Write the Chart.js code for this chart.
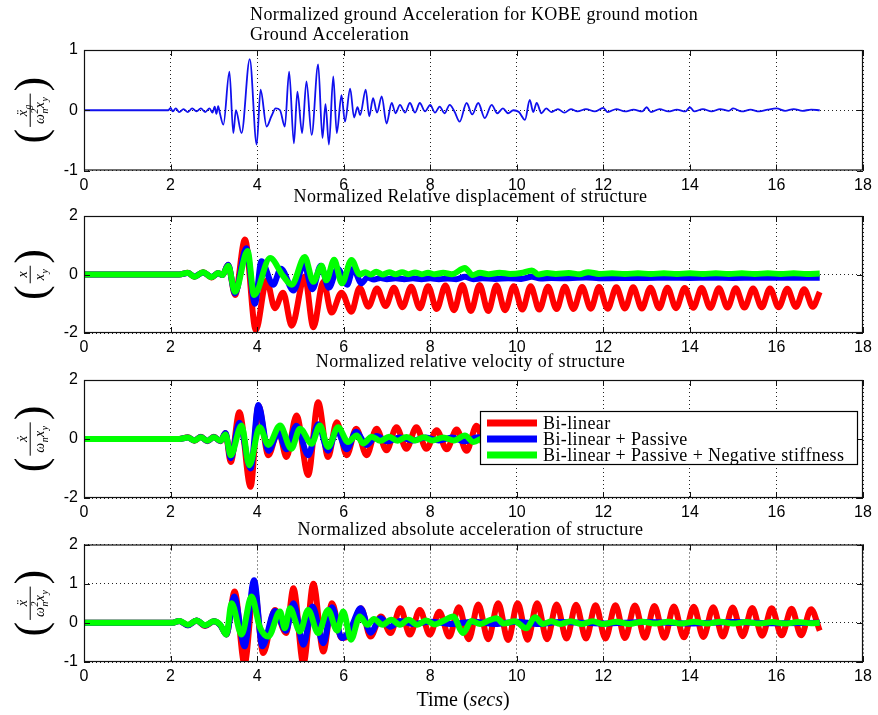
<!DOCTYPE html>
<html>
<head>
<meta charset="utf-8">
<title>KOBE ground motion response</title>
<script src="https://cdn.jsdelivr.net/npm/chart.js@4.4.1/dist/chart.umd.min.js"></script>
<style>
    html, body { margin: 0; padding: 0; background: #fff; }
    #figure { position: relative; width: 878px; height: 715px; overflow: hidden; background: #fff; }
    #figure canvas { position: absolute; left: 0; }
</style>
</head>
<body>
<div id="figure">
    <canvas id="chartGround"></canvas>
    <canvas id="chartDisp"></canvas>
    <canvas id="chartVel"></canvas>
    <canvas id="chartAcc"></canvas>
</div>
<script>
// ---- data (time in s, normalized values) ----
const xTicks = {min: 0, max: 18, step: 2};
const seriesLabels = ["Bi-linear", "Bi-linear + Passive", "Bi-linear + Passive + Negative stiffness"];

const groundT = [
    0, 1.95, 2.0, 2.05, 2.12, 2.2, 2.3, 2.4, 2.5, 2.6,
    2.7, 2.8, 2.9, 2.97, 3.02, 3.06, 3.1, 3.14, 3.22, 3.36,
    3.45, 3.51, 3.64, 3.83, 3.99, 4.08, 4.22, 4.33, 4.43, 4.53,
    4.64, 4.74, 4.85, 4.93, 5.04, 5.14, 5.26, 5.41, 5.51, 5.58,
    5.66, 5.76, 5.84, 5.95, 6.03, 6.15, 6.24, 6.32, 6.38, 6.51,
    6.59, 6.68, 6.77, 6.88, 6.99, 7.11, 7.2, 7.3, 7.42, 7.53,
    7.65, 7.76, 7.88, 8.0, 8.11, 8.22, 8.33, 8.45, 8.56, 8.68,
    8.84, 8.97, 9.11, 9.26, 9.42, 9.55, 9.68, 9.8, 9.92, 10.05,
    10.19, 10.3, 10.38, 10.46, 10.57, 10.68, 10.8, 10.95, 11.1, 11.25,
    11.4, 11.6, 11.8, 12.0, 12.1, 12.3, 12.5, 12.7, 12.9, 13.0,
    13.1, 13.3, 13.5, 13.7, 13.9, 14.0, 14.1, 14.3, 14.5, 14.7,
    14.9, 15.0, 15.2, 15.4, 15.6, 15.8, 16.0, 16.2, 16.4, 16.6,
    16.8, 17.0
];
const groundAcc = [
    0, 0, 0.04, -0.02, 0.03, -0.03, 0.02, -0.03, 0.03, -0.02,
    0.03, -0.03, 0.03, -0.04, 0.06, -0.06, 0.07, -0.05, -0.24, 0.64,
    -0.38, 0.0, -0.38, 0.85, -0.57, 0.34, -0.27, -0.1, 0.03, 0.0,
    -0.27, 0.64, -0.55, 0.31, -0.38, 0.48, -0.41, 0.76, -0.46, 0.1,
    -0.57, 0.56, -0.38, 0.25, -0.19, 0.36, -0.12, 0.05, -0.08, 0.34,
    -0.1, 0.2, -0.04, 0.23, -0.22, 0.12, -0.05, 0.09, -0.04, 0.12,
    -0.04, 0.12, -0.02, 0.09, -0.04, 0.06, -0.05, 0.09, -0.02, -0.19,
    0.12, -0.07, 0.12, -0.13, 0.09, -0.05, 0.03, -0.05, 0.0, -0.03,
    -0.16, 0.17, -0.03, 0.12, -0.05, 0.03, -0.03, 0.02, -0.04, 0.02,
    -0.02, 0.02, -0.02, 0.04, -0.03, 0.02, -0.02, 0.01, -0.02, 0.05,
    -0.03, 0.02, -0.02, 0.01, -0.02, 0.05, -0.02, 0.02, -0.02, 0.02,
    -0.01, 0.03, -0.02, 0.01, -0.02, 0.01, 0.03, -0.01, 0.02, -0.01,
    0.01, 0.0
];

// relative displacement
const dispRedT = [
    0, 2.2, 2.4, 2.55, 2.75, 2.95, 3.1, 3.2, 3.33, 3.49,
    3.72, 3.97, 4.22, 4.41, 4.6, 4.8, 5.1, 5.3, 5.53, 5.72,
    5.95, 6.18,
    6.37, 6.57, 6.77, 6.97, 7.16, 7.36, 7.56, 7.76, 7.95, 8.15,
    8.35, 8.55, 8.74, 8.94, 9.14, 9.34, 9.53, 9.73, 9.93, 10.13,
    10.32, 10.52, 10.72, 10.92, 11.11, 11.31, 11.51, 11.71, 11.90, 12.10,
    12.30, 12.50, 12.69, 12.89, 13.09, 13.29, 13.48, 13.68, 13.88, 14.08,
    14.27, 14.47, 14.67, 14.87, 15.06, 15.26, 15.46, 15.66, 15.85, 16.05,
    16.25, 16.45, 16.64, 16.84, 17.0
];
const dispRed = [
    0, 0, 0.06, -0.08, 0.08, -0.1, 0.05, -0.02, 0.33, -0.7,
    1.2, -1.9, -0.2, -1.15, -0.62, -1.75, -0.07, -1.8, -0.25, -1.3,
    -0.62, -1.27,
    -0.45, -1.10, -0.48, -1.08, -0.45, -1.12, -0.42, -1.15, -0.40, -1.18,
    -0.38, -1.22, -0.36, -1.25, -0.36, -1.25, -0.38, -1.22, -0.40, -1.20,
    -0.40, -1.20, -0.42, -1.18, -0.42, -1.18, -0.43, -1.17, -0.43, -1.17,
    -0.44, -1.16, -0.44, -1.16, -0.45, -1.15, -0.45, -1.15, -0.46, -1.14,
    -0.46, -1.14, -0.47, -1.13, -0.47, -1.13, -0.48, -1.12, -0.48, -1.12,
    -0.49, -1.11, -0.50, -1.10, -0.60
];
const dispBlueT = [
    0, 2.2, 2.4, 2.55, 2.75, 2.95, 3.1, 3.2, 3.33, 3.49,
    3.75, 3.95, 4.1, 4.37, 4.55, 4.84, 5.08, 5.28, 5.47, 5.66,
    5.86, 6.08, 6.22, 6.41, 6.55, 6.7, 6.85, 7.0, 7.2, 7.4,
    7.6, 7.8, 8.0, 8.2, 8.4, 8.6, 8.8, 9.0, 9.2, 9.5,
    9.8, 10.1, 10.35, 10.55, 10.8, 11.2, 11.6, 11.9, 12.4, 13.0,
    13.5, 14.0, 14.5, 15.0, 15.5, 16.0, 16.5, 17.0
];
const dispBlue = [
    0, 0, 0.05, -0.07, 0.07, -0.08, 0.04, -0.02, 0.33, -0.65,
    0.9, -1.0, 0.45, -0.35, 0.2, -0.55, 0.35, -0.5, 0.3, -0.45,
    0.2, -0.35, 0.2, -0.3, -0.1, -0.17, -0.12, -0.16, -0.13, -0.16,
    -0.13, -0.16, -0.13, -0.16, -0.14, -0.16, -0.08, -0.16, -0.13, -0.15,
    -0.13, -0.15, -0.08, -0.14, -0.12, -0.13, -0.1, -0.13, -0.12, -0.12,
    -0.11, -0.12, -0.11, -0.12, -0.11, -0.11, -0.11, -0.11
];
const dispGreenT = [
    0, 2.2, 2.4, 2.55, 2.75, 2.95, 3.1, 3.2, 3.33, 3.49,
    3.78, 3.93, 4.3, 4.6, 4.8, 5.1, 5.3, 5.49, 5.6, 5.78,
    5.96, 6.18, 6.37, 6.5, 6.62, 6.75, 6.9, 7.05, 7.2, 7.35,
    7.5, 7.65, 7.8, 7.95, 8.1, 8.3, 8.5, 8.8, 8.98, 9.15,
    9.35, 9.6, 9.85, 10.1, 10.35, 10.5, 10.7, 10.9, 11.2, 11.45,
    11.65, 11.9, 12.2, 12.5, 12.8, 13.1, 13.4, 13.7, 14.0, 14.3,
    14.6, 14.9, 15.2, 15.5, 15.8, 16.1, 16.4, 16.7, 17.0
];
const dispGreen = [
    0, 0, 0.06, -0.08, 0.08, -0.09, 0.05, -0.02, 0.3, -0.59,
    0.8, -0.7, 0.56, -0.05, -0.35, 0.6, -0.25, 0.3, -0.2, 0.5,
    -0.3, 0.5, 0.0, 0.08, 0.0, 0.09, 0.0, 0.08, 0.01, 0.08,
    0.01, 0.07, 0.01, 0.06, 0.01, 0.06, 0.01, 0.22, -0.02, 0.06,
    0.01, 0.06, 0.02, 0.05, 0.14, 0.0, 0.05, 0.02, 0.05, 0.01,
    0.08, 0.02, 0.04, 0.02, 0.04, 0.02, 0.04, 0.02, 0.04, 0.02,
    0.04, 0.02, 0.04, 0.02, 0.04, 0.02, 0.04, 0.02, 0.03
];

// relative velocity
const velRedT = [
    0, 2.2, 2.4, 2.55, 2.7, 2.85, 3.0, 3.15, 3.27, 3.39,
    3.59, 3.85, 4.03, 4.26, 4.49, 4.68, 4.91, 5.18, 5.41, 5.64,
    5.84, 6.07,
    6.29, 6.53, 6.76, 6.99, 7.22, 7.45, 7.68, 7.91, 8.15, 8.38,
    8.61, 8.84, 9.07, 9.30, 9.53, 9.76, 9.99, 10.22, 10.45, 10.68,
    10.91, 11.14, 11.37, 11.60, 11.83, 12.06, 12.29, 12.52, 12.75, 12.98,
    13.21, 13.44, 13.67, 13.90, 14.13, 14.36, 14.59, 14.82, 15.05, 15.28,
    15.51, 15.74, 15.97, 16.20, 16.43, 16.66, 16.89, 17.0
];
const velRed = [
    0, 0, 0.06, -0.06, 0.08, -0.08, 0.08, -0.08, 0.2, -0.78,
    0.91, -1.62, 1.13, -0.55, 0.29, -0.61, 0.8, -1.22, 1.25, -0.61,
    0.57, -0.55,
    0.35, -0.55, 0.35, -0.38, 0.40, -0.33, 0.40, -0.33, 0.30, -0.35,
    0.32, -0.40, 0.45, -0.42, 0.42, -0.42, 0.42, -0.42, 0.42, -0.42,
    0.40, -0.40, 0.40, -0.40, 0.40, -0.40, 0.38, -0.38, 0.38, -0.38,
    0.37, -0.37, 0.36, -0.36, 0.36, -0.36, 0.35, -0.35, 0.34, -0.34,
    0.34, -0.34, 0.33, -0.33, 0.33, -0.33, 0.32, 0.10
];
const velBlueT = [
    0, 2.2, 2.4, 2.55, 2.7, 2.85, 3.0, 3.15, 3.27, 3.39,
    3.59, 3.85, 4.03, 4.26, 4.49, 4.68, 4.91, 5.18, 5.41, 5.64,
    5.84, 6.07, 6.29, 6.53, 6.76, 7.0, 7.3, 7.6, 7.9, 8.2,
    8.5, 8.8, 9.1, 9.5, 10.0, 11.0, 12.0, 13.0, 14.0, 15.0,
    16.0, 17.0
];
const velBlue = [
    0, 0, 0.05, -0.05, 0.07, -0.07, 0.07, -0.07, 0.2, -0.65,
    0.55, -1.0, 1.15, -0.4, 0.2, -0.35, 0.45, -0.55, 0.5, -0.4,
    0.3, -0.35, 0.25, -0.2, 0.1, -0.08, 0.05, -0.05, 0.05, -0.05,
    0.05, -0.08, 0.06, -0.04, 0.03, -0.03, 0.02, -0.02, 0.02, -0.02,
    0.01, 0.0
];
const velGreenT = [
    0, 2.2, 2.4, 2.55, 2.7, 2.85, 3.0, 3.15, 3.27, 3.39,
    3.64, 3.82, 4.06, 4.26, 4.53, 4.79, 4.99, 5.26, 5.45, 5.64,
    5.87, 6.1, 6.3, 6.45, 6.65, 6.85, 7.05, 7.25, 7.45, 7.65,
    7.85, 8.05, 8.3, 8.55, 8.8, 9.0, 9.25, 9.5, 10.0, 11.0,
    12.0, 13.0, 14.0, 15.0, 16.0, 17.0
];
const velGreen = [
    0, 0, 0.05, -0.05, 0.06, -0.06, 0.06, -0.06, 0.15, -0.55,
    0.46, -0.89, 0.4, -0.2, 0.46, -0.33, 0.35, -0.16, 0.46, -0.27,
    0.4, -0.1, 0.12, -0.15, 0.08, -0.06, 0.08, -0.06, 0.07, -0.05,
    0.06, -0.05, 0.05, -0.05, 0.12, -0.1, 0.05, -0.03, 0.03, -0.02,
    0.02, -0.02, 0.02, -0.01, 0.01, 0.0
];

// absolute acceleration
const accRedT = [
    0, 2.05, 2.2, 2.4, 2.6, 2.8, 3.0, 3.15, 3.29, 3.48,
    3.71, 3.93, 4.14, 4.41, 4.67, 4.84, 5.07, 5.3, 5.53, 5.73,
    5.95, 6.15,
    6.40, 6.62, 6.86, 7.08, 7.31, 7.53, 7.76, 7.99, 8.21, 8.44,
    8.66, 8.89, 9.11, 9.34, 9.57, 9.80, 10.02, 10.25, 10.47, 10.70,
    10.92, 11.15, 11.37, 11.60, 11.82, 12.05, 12.28, 12.50, 12.73, 12.96,
    13.18, 13.41, 13.63, 13.86, 14.09, 14.31, 14.54, 14.76, 14.99, 15.22,
    15.44, 15.67, 15.89, 16.12, 16.35, 16.57, 16.80, 17.0
];
const accRed = [
    0, 0, 0.05, -0.06, 0.06, -0.08, 0.04, -0.06, -0.3, 0.8,
    -1.05, 0.92, -0.77, 0.33, -0.26, 0.88, -1.05, 1.0, -0.73, 0.5,
    -0.39, -0.3,
    0.37, -0.35, 0.16, -0.26, 0.37, -0.30, 0.33, -0.30, 0.28, -0.35,
    0.40, -0.42, 0.47, -0.42, 0.50, -0.44, 0.50, -0.43, 0.50, -0.42,
    0.47, -0.40, 0.46, -0.40, 0.45, -0.40, 0.45, -0.39, 0.44, -0.38,
    0.43, -0.38, 0.42, -0.37, 0.41, -0.36, 0.40, -0.35, 0.39, -0.34,
    0.38, -0.33, 0.37, -0.32, 0.36, -0.32, 0.35, -0.20
];
const accBlueT = [
    0, 2.05, 2.2, 2.4, 2.6, 2.8, 3.0, 3.15, 3.29, 3.47,
    3.71, 3.93, 4.12, 4.41, 4.67, 4.84, 5.07, 5.28, 5.53, 5.73,
    5.96, 6.18, 6.39, 6.62, 6.85, 7.08, 7.3, 7.6, 8.0, 8.5,
    9.0, 9.5, 10.0, 10.5, 11.0, 12.0, 13.0, 14.0, 15.0, 16.0,
    17.0
];
const accBlue = [
    0, 0, 0.05, -0.06, 0.06, -0.07, 0.04, -0.06, -0.3, 0.67,
    -0.6, 1.09, -0.6, 0.3, -0.2, 0.5, -0.56, 0.42, -0.52, 0.4,
    -0.39, -0.1, 0.37, -0.25, 0.12, -0.1, 0.05, -0.03, 0.03, -0.03,
    0.03, -0.03, 0.03, -0.03, 0.02, -0.02, 0.02, -0.02, 0.02, -0.01,
    0.0
];
const accGreenT = [
    0, 2.05, 2.2, 2.4, 2.6, 2.8, 3.0, 3.15, 3.29, 3.41,
    3.64, 3.87, 4.06, 4.26, 4.53, 4.64, 4.76, 4.99, 5.18, 5.41,
    5.64, 5.85, 5.99, 6.17, 6.37, 6.55, 6.7, 6.9, 7.1, 7.3,
    7.5, 7.7, 7.9, 8.1, 8.3, 8.53, 8.76, 8.95, 9.15, 9.35,
    9.53, 9.7, 9.95, 10.22, 10.42, 10.6, 10.8, 11.0, 11.25, 11.5,
    11.75, 12.0, 12.3, 12.6, 12.9, 13.2, 13.5, 13.8, 14.1, 14.4,
    14.7, 15.0, 15.3, 15.6, 15.9, 16.2, 16.5, 16.8, 17.0
];
const accGreen = [
    0, 0, 0.05, -0.05, 0.06, -0.06, 0.04, -0.05, -0.3, 0.5,
    -0.3, 0.67, -0.1, -0.35, 0.29, -0.14, 0.37, -0.22, 0.33, -0.26,
    0.33, -0.2, 0.29, -0.43, 0.16, -0.05, 0.1, -0.05, 0.08, -0.05,
    0.08, -0.05, 0.06, -0.04, 0.05, 0.16, -0.26, 0.05, -0.03, 0.06,
    0.12, -0.02, 0.04, -0.14, 0.14, -0.03, 0.04, -0.03, 0.04, -0.03,
    0.04, -0.03, 0.03, -0.03, 0.03, -0.02, 0.03, -0.02, 0.03, -0.02,
    0.03, -0.02, 0.02, -0.02, 0.02, -0.02, 0.02, -0.01, 0.0
];

// ---- styling / layout ----
const SERIF = "'Liberation Serif', 'DejaVu Serif', serif";
const SANS = "'Liberation Sans', 'DejaVu Sans', sans-serif";
const RED = "#ff0000", BLUE = "#0000ff", GREEN = "#00ff00";
const PLOT_LEFT = 84, PLOT_RIGHT_PAD = 15, WIDTH = 878;
const TEXT_SIZE = 18;

function partsWidth(ctx, parts, size) {
    let w = 0;
    parts.forEach(p => {
        ctx.font = `${p.upright ? "" : "italic "}${size}px ${SERIF}`;
        w += ctx.measureText(p.t).width;
        ctx.font = `italic ${size * 0.7}px ${SERIF}`;
        const sw = Math.max(p.sup ? ctx.measureText(p.sup).width : 0, p.sub ? ctx.measureText(p.sub).width : 0);
        if (sw) w += sw + 1;
    });
    return w;
}

function drawParts(ctx, parts, x, y, size) {
    ctx.textAlign = "left";
    ctx.textBaseline = "alphabetic";
    parts.forEach(p => {
        ctx.font = `${p.upright ? "" : "italic "}${size}px ${SERIF}`;
        ctx.fillText(p.t, x, y);
        x += ctx.measureText(p.t).width;
        ctx.font = `italic ${size * 0.7}px ${SERIF}`;
        let sw = 0;
        if (p.sup) {
            ctx.fillText(p.sup, x + 0.5, y - size * 0.4);
            sw = ctx.measureText(p.sup).width;
        }
        if (p.sub) {
            ctx.fillText(p.sub, x + 0.5, y + size * 0.28);
            sw = Math.max(sw, ctx.measureText(p.sub).width);
        }
        if (sw) x += sw + 1;
    });
}

function drawFraction(ctx, cx, cy, label) {
    const size = 14;
    const wn = partsWidth(ctx, label.num, size);
    const wd = partsWidth(ctx, label.den, size);
    const w = Math.max(wn, wd) + 6;

    ctx.save();
    ctx.translate(cx, cy);
    ctx.rotate(-Math.PI / 2);
    ctx.fillStyle = "#000";
    drawParts(ctx, label.num, -wn / 2, -4, size);
    drawParts(ctx, label.den, -wd / 2, 13, size);
    ctx.fillRect(-w / 2, -1.3, w, 1);

    ctx.font = `44px ${SERIF}`;
    ctx.textBaseline = "middle";
    ctx.textAlign = "right";
    ctx.fillText("(", -w / 2 - 2, 2);
    ctx.textAlign = "left";
    ctx.fillText(")", w / 2 + 2, 2);
    ctx.restore();
}

const panelPlugin = {
    id: "panel",
    afterDraw(chart, args, opts) {
        const {ctx, chartArea: a, scales: {x, y}} = chart;
        ctx.save();

        // frame with inward ticks
        ctx.strokeStyle = "#111";
        ctx.lineWidth = 1.2;
        ctx.strokeRect(a.left + 0.5, a.top + 0.5, a.width - 1, a.height - 1);
        ctx.lineWidth = 1;
        ctx.beginPath();
        x.ticks.forEach(t => {
            const px = Math.round(x.getPixelForValue(t.value)) + 0.5;
            ctx.moveTo(px, a.bottom); ctx.lineTo(px, a.bottom - 6);
            ctx.moveTo(px, a.top); ctx.lineTo(px, a.top + 6);
        });
        y.ticks.forEach(t => {
            const py = Math.round(y.getPixelForValue(t.value)) + 0.5;
            ctx.moveTo(a.left, py); ctx.lineTo(a.left + 6, py);
            ctx.moveTo(a.right, py); ctx.lineTo(a.right - 6, py);
        });
        ctx.stroke();

        // titles
        ctx.fillStyle = "#000";
        ctx.font = `${TEXT_SIZE}px ${SERIF}`;
        ctx.letterSpacing = "0.4px";
        ctx.textBaseline = "middle";
        (opts.titles || []).forEach(t => {
            ctx.textAlign = t.align || "center";
            const tx = t.x === undefined ? (a.left + a.right) / 2 - 3 : t.x;
            ctx.fillText(t.text, tx, a.top + t.dy);
        });
        ctx.letterSpacing = "0px";

        if (opts.ylabel) {
            drawFraction(ctx, 31, (a.top + a.bottom) / 2, opts.ylabel);
        }

        if (opts.xlabel) {
            const size = 20;
            const w = partsWidth(ctx, opts.xlabel, size);
            drawParts(ctx, opts.xlabel, opts.xlabelCenter - w / 2, a.bottom + 44, size);
        }

        if (opts.legend) {
            const L = opts.legend;
            const bx = a.right - L.right - L.width;
            const by = a.top + L.top;
            ctx.fillStyle = "#fff";
            ctx.fillRect(bx, by, L.width, L.height);
            ctx.strokeStyle = "#000";
            ctx.lineWidth = 1.2;
            ctx.strokeRect(bx + 0.5, by + 0.5, L.width, L.height);
            ctx.font = `${TEXT_SIZE}px ${SERIF}`;
            ctx.letterSpacing = "0.4px";
            ctx.textAlign = "left";
            ctx.textBaseline = "middle";
            chart.data.datasets.forEach((ds, i) => {
                const ry = by + 12 + i * 16;
                ctx.strokeStyle = ds.borderColor;
                ctx.lineWidth = 7;
                ctx.beginPath();
                ctx.moveTo(bx + 7, ry);
                ctx.lineTo(bx + 57, ry);
                ctx.stroke();
                ctx.fillStyle = "#000";
                ctx.fillText(ds.label, bx + 63, ry + 1);
            });
            ctx.letterSpacing = "0px";
        }
        ctx.restore();
    }
};

function toPoints(times, values) {
    return times.map((t, i) => ({x: t, y: values[i]}));
}

function makePanel(id, band, area, yAxis, series, extras) {
    const canvas = document.getElementById(id);
    canvas.width = WIDTH;
    canvas.height = band.h;
    canvas.style.top = band.top + "px";

    const gridStyle = {color: "#222", lineWidth: 1, drawTicks: false};
    return new Chart(canvas, {
        type: "line",
        data: {
            datasets: series.map(s => ({
                label: s.label,
                data: toPoints(s.t, s.v),
                borderColor: s.color,
                borderWidth: s.width,
                order: s.order,
                pointRadius: 0,
                fill: false,
                clip: 0,
                cubicInterpolationMode: "monotone",
            })),
        },
        options: {
            responsive: false,
            animation: false,
            events: [],
            layout: {padding: {top: area.top - band.top, right: PLOT_RIGHT_PAD, left: 0, bottom: 0}},
            scales: {
                x: {
                    type: "linear",
                    min: xTicks.min,
                    max: xTicks.max,
                    ticks: {stepSize: xTicks.step, color: "#000", font: {family: SANS, size: 16}, padding: 5, maxRotation: 0},
                    grid: gridStyle,
                    border: {display: false, dash: [1, 3]},
                    afterFit: scale => { scale.height = band.top + band.h - area.bottom; },
                },
                y: {
                    type: "linear",
                    min: yAxis.min,
                    max: yAxis.max,
                    ticks: {stepSize: yAxis.step, color: "#000", font: {family: SANS, size: 16}, padding: 6},
                    grid: gridStyle,
                    border: {display: false, dash: [1, 3]},
                    afterFit: scale => { scale.width = PLOT_LEFT; },
                },
            },
            plugins: {
                legend: {display: false},
                tooltip: {enabled: false},
                panel: extras,
            },
        },
        plugins: [panelPlugin],
    });
}

const threeSeries = (r, b, g) => [
    {label: seriesLabels[0], t: r[0], v: r[1], color: RED, width: 6, order: 3},
    {label: seriesLabels[1], t: b[0], v: b[1], color: BLUE, width: 6, order: 2},
    {label: seriesLabels[2], t: g[0], v: g[1], color: GREEN, width: 6, order: 1},
];

makePanel("chartGround", {top: 0, h: 200}, {top: 50, bottom: 170.5}, {min: -1, max: 1, step: 1},
    [{label: "Ground Acceleration", t: groundT, v: groundAcc, color: "#1010ee", width: 1.8, order: 1}],
    {
        titles: [
            {text: "Normalized ground Acceleration for KOBE ground motion", x: 250, dy: -35, align: "left"},
            {text: "Ground Acceleration", x: 250, dy: -15, align: "left"},
        ],
        ylabel: {num: [{t: "ẍ", sub: "g"}], den: [{t: "ω", sup: "2", sub: "n"}, {t: "x", sub: "y"}]},
    });

makePanel("chartDisp", {top: 185, h: 180}, {top: 216, bottom: 333}, {min: -2, max: 2, step: 2},
    threeSeries([dispRedT, dispRed], [dispBlueT, dispBlue], [dispGreenT, dispGreen]),
    {
        titles: [{text: "Normalized Relative displacement of structure", dy: -19}],
        ylabel: {num: [{t: "x"}], den: [{t: "x", sub: "y"}]},
    });

makePanel("chartVel", {top: 350, h: 182}, {top: 380, bottom: 498}, {min: -2, max: 2, step: 2},
    threeSeries([velRedT, velRed], [velBlueT, velBlue], [velGreenT, velGreen]),
    {
        titles: [{text: "Normalized relative velocity of structure", dy: -18}],
        ylabel: {num: [{t: "ẋ"}], den: [{t: "ω", sub: "n"}, {t: "x", sub: "y"}]},
        legend: {right: 6, top: 31, width: 377, height: 53},
    });

makePanel("chartAcc", {top: 515, h: 200}, {top: 544.5, bottom: 662}, {min: -1, max: 2, step: 1},
    threeSeries([accRedT, accRed], [accBlueT, accBlue], [accGreenT, accGreen]),
    {
        titles: [{text: "Normalized absolute acceleration of structure", dy: -14.5}],
        ylabel: {num: [{t: "ẍ"}], den: [{t: "ω", sup: "2", sub: "n"}, {t: "x", sub: "y"}]},
        xlabel: [{t: "Time (", upright: true}, {t: "secs"}, {t: ")", upright: true}],
        xlabelCenter: 463,
    });
</script>
</body>
</html>
